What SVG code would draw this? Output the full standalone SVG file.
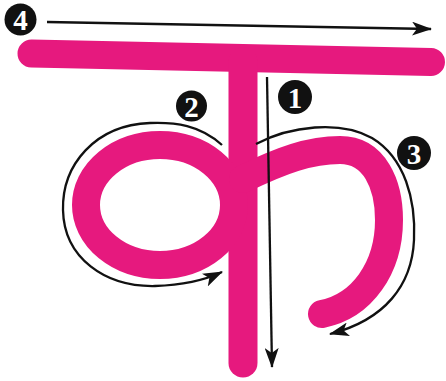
<svg xmlns="http://www.w3.org/2000/svg" width="446" height="381" viewBox="0 0 446 381">
<style>
.ink{fill:none;stroke:#e6197e;stroke-width:28;stroke-linecap:round;stroke-linejoin:round}
.guide{fill:none;stroke:#111;stroke-width:2.3}
.badge circle{fill:#111}
.badge text{fill:#fff;font-family:"Liberation Serif",serif;font-weight:bold;font-size:29px;text-anchor:middle}
</style>
<defs>
<marker id="ahb" markerWidth="20" markerHeight="14" refX="19" refY="7" orient="auto" markerUnits="userSpaceOnUse" viewBox="0 0 20 14">
<path d="M0,0 L20,7 L0,14 L5,7 Z" fill="#111"/>
</marker>
</defs>
<rect width="446" height="381" fill="#fff"/>
<g id="letter">
<path class="ink" d="M31.5,53.5 L431,62"/>
<path class="ink" d="M243,62 L243,363" style="stroke-width:29"/>
<ellipse class="ink" cx="160" cy="205" rx="74" ry="60"/>
<path class="ink" d="M243,179 C282,160 310,150 340,150 C375,150 389,185 389,220 C389,268 362,306 322,314"/>
</g>
<g id="connectors">
<path class="guide" d="M47,22 L431,29" marker-end="url(#ahb)"/>
<path class="guide" d="M267,77 L272,367" marker-end="url(#ahb)"/>
<path class="guide" d="M222,145 C200,125 175,122 150,123 C95,125 62,165 63,210 C64,258 105,287 155,286 C185,285 205,280 222,272" marker-end="url(#ahb)"/>
<path class="guide" d="M256,144 C290,126 340,120 372,138 C405,158 416,200 414,240 C412,285 385,320 330,334" marker-end="url(#ahb)"/>
</g>
<g id="badge4" class="badge"><circle cx="20.5" cy="19.5" r="16"/><text x="20.5" y="30">4</text></g>
<g id="badge1" class="badge"><circle cx="295" cy="97" r="17"/><text x="295" y="107.5">1</text></g>
<g id="badge2" class="badge"><circle cx="191.5" cy="106" r="15.5"/><text x="191.5" y="116.5">2</text></g>
<g id="badge3" class="badge"><circle cx="414" cy="153" r="17"/><text x="414" y="163.5">3</text></g>
</svg>
